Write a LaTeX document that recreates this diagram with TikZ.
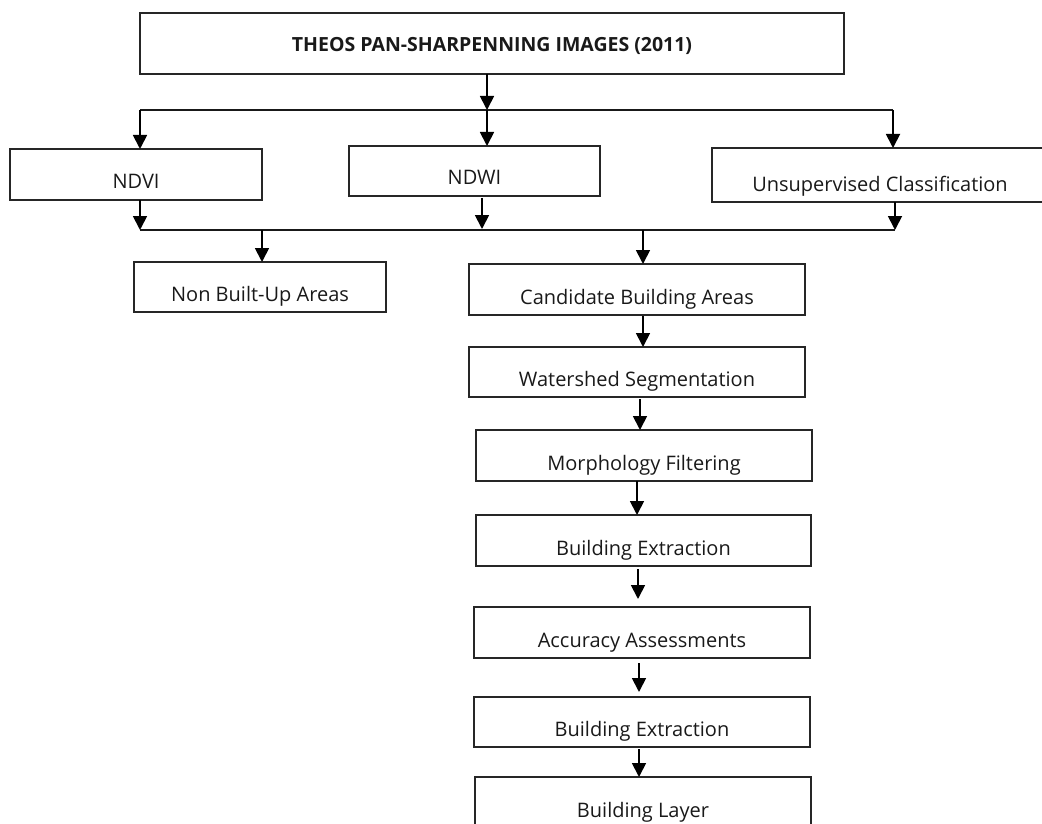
\documentclass[tikz,border=0pt]{standalone}
\usepackage{fontspec}
\setmainfont{Open Sans}
\usetikzlibrary{arrows.meta}
\begin{document}
\begin{tikzpicture}[x=1pt,y=-1pt,
  box/.style={draw=black!85, line width=1.2pt, rectangle, inner sep=0pt, outer sep=0pt,
    text depth=0pt, font=\fontsize{20}{24}\selectfont, text=black!90},
  titlebox/.style={box, font=\fontsize{19.5}{24}\selectfont\bfseries},
  arr/.style={draw=black, line width=1.8pt, -{Triangle[width=14pt,length=14pt]}},
  bus/.style={draw=black!90, line width=1.8pt}]
\useasboundingbox (0,0) rectangle (1042,824);
% boxes
\node[titlebox, minimum width=704pt, minimum height=61pt, text height=17pt] (title) at (492,43.5) {THEOS PAN-SHARPENNING IMAGES (2011)};
\node[box, minimum width=252pt, minimum height=51pt, text height=29pt] (ndvi) at (136,174.5) {NDVI};
\node[box, minimum width=251pt, minimum height=50pt, text height=28pt] (ndwi) at (474.5,171) {NDWI};
\node[box, minimum width=336pt, minimum height=54pt, text height=32pt] (uns) at (880,175) {Unsupervised Classification};
\node[box, minimum width=252pt, minimum height=50pt, text height=28pt] (nbu) at (260,287) {Non Built-Up Areas};
\node[box, minimum width=336pt, minimum height=51pt, text height=29pt] (cand) at (637,289.5) {Candidate Building Areas};
\node[box, minimum width=336pt, minimum height=50pt, text height=28pt] (wat) at (637,372) {Watershed Segmentation};
\node[box, minimum width=336pt, minimum height=51pt, text height=29pt] (morph) at (644,455.5) {Morphology Filtering};
\node[box, minimum width=335pt, minimum height=51pt, text height=29pt] (be1) at (643.5,540.5) {Building Extraction};
\node[box, minimum width=336pt, minimum height=51pt, text height=29pt] (acc) at (642,632.5) {Accuracy Assessments};
\node[box, minimum width=336pt, minimum height=50pt, text height=28pt] (be2) at (642,722) {Building Extraction};
\node[box, minimum width=336pt, minimum height=51pt, text height=29pt] (layer) at (643,802.5) {Building Layer};
% bus 1
\coordinate (b1l) at (140,110);
\coordinate (b1m) at (487,110);
\coordinate (b1r) at (893,110);
\draw[bus] (b1l) -- (b1r);
\draw[arr] (title.south -| b1m) -- (b1m);
\draw[arr] (b1l) -- (b1l |- ndvi.north);
\draw[arr] (b1m) -- (b1m |- ndwi.north);
\draw[arr] (b1r) -- (b1r |- uns.north);
% bus 2
\coordinate (b2l) at (140,230);
\coordinate (b2w) at (482,230);
\coordinate (b2r) at (895,230);
\coordinate (b2n) at (262,230);
\coordinate (b2c) at (643,230);
\draw[bus] (b2l) -- (b2r);
\draw[arr] (ndvi.south -| b2l) -- (b2l);
\draw[arr, shorten <=2pt, shorten >=1pt] (ndwi.south -| b2w) -- (b2w);
\draw[arr] (uns.south -| b2r) -- (b2r);
\draw[arr] (b2n) -- (b2n |- nbu.north);
\draw[arr] (b2c) -- (b2c |- cand.north);
% chain
\draw[arr, shorten <=1pt] ([xshift=6pt]cand.south) -- ([xshift=6pt]cand.south |- wat.north);
\draw[arr, shorten <=2pt] ([xshift=3pt]wat.south) -- ([xshift=3pt]wat.south |- morph.north);
\draw[arr] ([xshift=-7pt]morph.south) -- ([xshift=-7pt]morph.south |- be1.north);
\draw[arr, shorten <=3pt, shorten >=8pt] ([xshift=-5.5pt]be1.south) -- ([xshift=-5.5pt]be1.south |- acc.north);
\draw[arr, shorten <=5pt, shorten >=5pt] ([xshift=-3pt]acc.south) -- ([xshift=-3pt]acc.south |- be2.north);
\draw[arr, shorten <=2pt] ([xshift=-3pt]be2.south) -- ([xshift=-3pt]be2.south |- layer.north);
\end{tikzpicture}
\end{document}
